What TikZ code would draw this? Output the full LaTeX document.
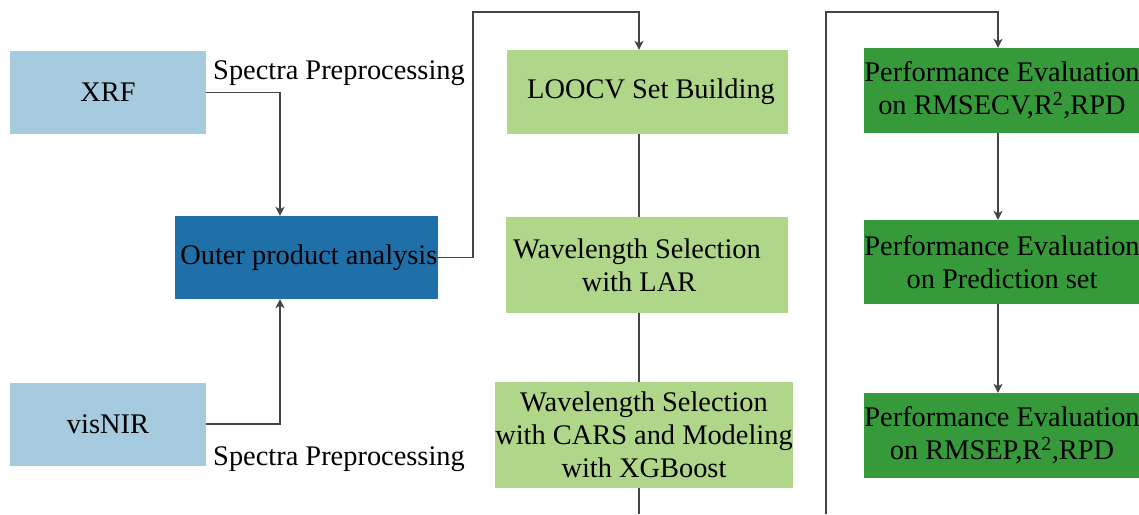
\documentclass[tikz,border=0pt]{standalone}
\usepackage{fontspec}
\setmainfont{Liberation Serif}
\usetikzlibrary{arrows.meta}
\definecolor{inblue}{HTML}{A6CBDF}
\definecolor{opblue}{HTML}{1F70A9}
\definecolor{stepgreen}{HTML}{B0D68A}
\definecolor{evalgreen}{HTML}{379A3A}
\definecolor{wire}{HTML}{444444}
\tikzset{
  box/.style={inner sep=0pt, align=center, font=\fontsize{28.4}{33}\selectfont},
  link/.style={draw=wire, line width=1.2pt}
}
\begin{document}
\begin{tikzpicture}[>={Stealth[length=9pt,width=9pt,inset=2.5pt]}, x=1pt, y=-1pt]
\useasboundingbox (0,0) rectangle (1139,514);
\node[box, fill=inblue, minimum width=196pt, minimum height=83pt] (xrf) at (108,92.5) {XRF};
\node[box, fill=inblue, minimum width=196pt, minimum height=83pt] (visnir) at (108,424) {visNIR};
\node[box, fill=opblue, minimum width=263pt, minimum height=83pt] (opa) at (306.5,257.5) {\,Outer product analysis};
\node[box] (pre1) at (339,73) {Spectra Preprocessing};
\node[box] (pre2) at (339,459) {Spectra Preprocessing};

\node[box, fill=stepgreen, minimum width=281pt, minimum height=84pt] (loocv) at (647.5,92) {\ LOOCV Set Building};
\node[box, fill=stepgreen, minimum width=282pt, minimum height=96pt] (lar) at (647,265) {Wavelength Selection\hspace*{20pt} \\ with LAR\hspace*{16pt}};
\node[box, fill=stepgreen, minimum width=292pt, minimum height=106pt] (cars) at (644,435) {Wavelength Selection\\with CARS and Modeling\\with XGBoost};

\node[box, fill=evalgreen, minimum width=274pt, minimum height=85pt] (pe1) at (1002,90.5) {Performance Evaluation\\on RMSECV,R\textsuperscript{2},RPD};
\node[box, fill=evalgreen, minimum width=274pt, minimum height=84pt] (pe2) at (1002,262) {Performance Evaluation\\on Prediction set};
\node[box, fill=evalgreen, minimum width=274pt, minimum height=85pt] (pe3) at (1002,435.5) {Performance Evaluation\\on RMSEP,R\textsuperscript{2},RPD};

% bend points
\coordinate (feed) at (280,0);
\coordinate (spine) at (639,0);
\coordinate (evalx) at (998,0);
\coordinate (riseA) at (473,12);
\coordinate (riseB) at (826,12);
\coordinate (riseBot) at (826,514);
\coordinate (spineEnd) at (639,514);

\draw[link,->] (xrf.east) -| (opa.north -| feed);
\draw[link,->] (visnir.east) -| (opa.south -| feed);
\draw[link,->] (opa.east) -| (riseA) -| (loocv.north -| spine);
\draw[link] (loocv.south -| spine) -- (lar.north -| spine);
\draw[link] (lar.south -| spine) -- (cars.north -| spine);
\draw[link] (cars.south -| spine) -- (spineEnd);
\draw[link,->] (riseBot) -- (riseB) -| (pe1.north -| evalx);
\draw[link,->] (pe1.south -| evalx) -- (pe2.north -| evalx);
\draw[link,->] (pe2.south -| evalx) -- (pe3.north -| evalx);
\end{tikzpicture}
\end{document}
